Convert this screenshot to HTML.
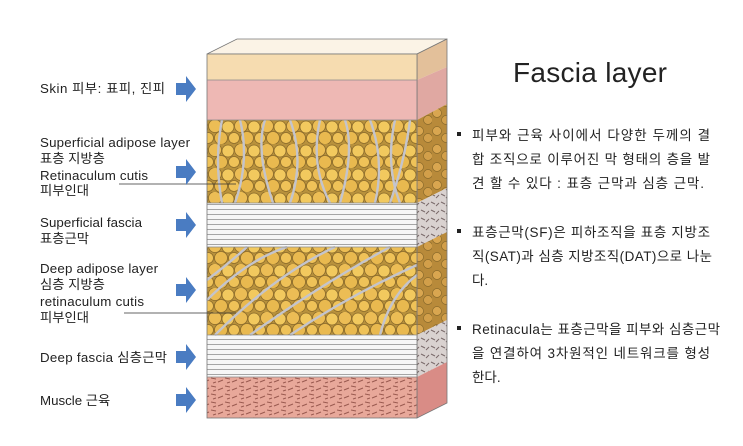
<!DOCTYPE html>
<html><head><meta charset="utf-8"><style>
html,body{margin:0;padding:0;background:#fff;width:743px;height:446px;overflow:hidden}
svg{display:block}
text{font-family:"Liberation Sans","Noto Sans CJK KR",sans-serif;fill:#222}
</style></head><body>
<svg width="743" height="446" viewBox="0 0 743 446">
<defs>
<pattern id="fat" width="26" height="24" patternUnits="userSpaceOnUse">
<rect width="26" height="24" fill="#b8913c"/>
<circle cx="7" cy="6" r="6.5" fill="#ecbd55" stroke="#8a6a2a" stroke-width=".8"/>
<circle cx="20" cy="7" r="6" fill="#f2c95e" stroke="#8a6a2a" stroke-width=".8"/>
<circle cx="13" cy="18" r="6.5" fill="#e9b94f" stroke="#8a6a2a" stroke-width=".8"/>
<circle cx="0" cy="18" r="5.5" fill="#efc258" stroke="#8a6a2a" stroke-width=".8"/>
<circle cx="26" cy="18" r="5.5" fill="#efc258" stroke="#8a6a2a" stroke-width=".8"/>
</pattern>
<pattern id="fatside" width="18" height="18" patternUnits="userSpaceOnUse">
<rect width="18" height="18" fill="#b88a3a"/>
<circle cx="5" cy="5" r="4.5" fill="#d9a650" stroke="#8a6a2a" stroke-width=".7"/>
<circle cx="14" cy="12" r="4.5" fill="#d29f4a" stroke="#8a6a2a" stroke-width=".7"/>
</pattern>
<pattern id="lines" width="10" height="5" patternUnits="userSpaceOnUse">
<rect width="10" height="5" fill="#f6f6f6"/><rect y="4" width="10" height="1" fill="#a5a5a5"/>
</pattern>
<pattern id="musc" width="14" height="8" patternUnits="userSpaceOnUse">
<rect width="14" height="8" fill="#e8a89a"/>
<path d="M1 2 l5 1 M8 6 l5 -2 M3 7 l3 -1" stroke="#9a5a50" stroke-width="1"/>
</pattern>
<pattern id="ct" width="10" height="8" patternUnits="userSpaceOnUse">
<rect width="10" height="8" fill="#d9d2d0"/>
<path d="M1 2 l4 2 M6 6 l3 -3" stroke="#7a6a6a" stroke-width="1"/>
</pattern>
</defs>
<polygon points="207,54 237,39 447,39 417,54" fill="#fbf3e6" stroke="#777" stroke-width=".8"/>
<polygon points="417,54 447,39 447,67 417,80" fill="#e3c09a"/>
<polygon points="417,80 447,67 447,104 417,120" fill="#e0a8a2"/>
<polygon points="417,120 447,104 447,188 417,203" fill="url(#fatside)"/>
<polygon points="417,203 447,188 447,232 417,247" fill="url(#ct)"/>
<polygon points="417,247 447,232 447,320 417,335" fill="url(#fatside)"/>
<polygon points="417,335 447,320 447,362 417,377" fill="url(#ct)"/>
<polygon points="417,377 447,362 447,403 417,418" fill="#d98c86"/>
<polygon points="417,54 447,39 447,403 417,418" fill="none" stroke="#777" stroke-width=".8"/>
<rect x="207" y="54" width="210" height="26" fill="#f6dcb0"/>
<rect x="207" y="80" width="210" height="40" fill="#eeb8b4"/>
<rect x="207" y="120" width="210" height="83" fill="url(#fat)"/>
<rect x="207" y="203" width="210" height="44" fill="url(#lines)"/>
<rect x="207" y="247" width="210" height="88" fill="url(#fat)"/>
<rect x="207" y="335" width="210" height="42" fill="url(#lines)"/>
<rect x="207" y="377" width="210" height="41" fill="url(#musc)"/>
<g stroke="#c4c4cc" stroke-width="2.4" fill="none">
<path d="M222 120 q-8 40 0 83 M240 120 q10 40 -5 83 M265 120 q-10 30 8 83 M290 120 q15 40 0 83 M320 120 q-10 45 10 83 M345 120 q10 30 -5 83 M370 120 q15 40 5 83 M395 120 q-10 45 5 83 M410 120 q-5 40 -20 83"/>
<path d="M207 300 q40 -40 80 -53 M215 335 q60 -60 120 -88 M250 335 q70 -50 140 -88 M290 335 q60 -40 127 -70 M380 335 q10 -40 37 -60 M207 280 q20 -15 40 -33"/>
</g>
<rect x="207" y="54" width="210" height="364" fill="none" stroke="#777" stroke-width=".8"/>
<g stroke="#8a8a8a" stroke-width=".8"><line x1="207" y1="80" x2="417" y2="80"/><line x1="207" y1="120" x2="417" y2="120"/><line x1="207" y1="203" x2="417" y2="203"/><line x1="207" y1="247" x2="417" y2="247"/><line x1="207" y1="335" x2="417" y2="335"/><line x1="207" y1="377" x2="417" y2="377"/></g>
<line x1="119" y1="184" x2="236" y2="184" stroke="#333" stroke-width=".8"/>
<line x1="124" y1="313" x2="236" y2="313" stroke="#333" stroke-width=".8"/>
<g fill="#4a7cc2">
<path d="M176 83 h10 v-7 l10 13 -10 13 v-7 h-10z"/>
<path d="M176 166 h10 v-7 l10 13 -10 13 v-7 h-10z"/>
<path d="M176 219 h10 v-7 l10 13 -10 13 v-7 h-10z"/>
<path d="M176 284 h10 v-7 l10 13 -10 13 v-7 h-10z"/>
<path d="M176 351 h10 v-7 l10 13 -10 13 v-7 h-10z"/>
<path d="M176 394 h10 v-7 l10 13 -10 13 v-7 h-10z"/>
</g>
<g font-size="13.3">
<text x="40" y="93" textLength="125">Skin 피부: 표피, 진피</text>
<text x="40" y="147" textLength="150">Superficial adipose layer</text>
<text x="40" y="163">표층 지방층</text>
<text x="40" y="180" textLength="108">Retinaculum cutis</text>
<text x="40" y="195">피부인대</text>
<text x="40" y="227" textLength="102">Superficial fascia</text>
<text x="40" y="243">표층근막</text>
<text x="40" y="273" textLength="118">Deep adipose layer</text>
<text x="40" y="289">심층 지방층</text>
<text x="40" y="306" textLength="104">retinaculum cutis</text>
<text x="40" y="322">피부인대</text>
<text x="40" y="362" textLength="127">Deep fascia 심층근막</text>
<text x="40" y="405">Muscle 근육</text>
</g>
<text x="590" y="82" font-size="28" text-anchor="middle" textLength="154">Fascia layer</text>
<g font-size="13.5">
<rect x="457" y="132" width="4" height="4" fill="#222"/>
<text x="472" y="140" textLength="238">피부와 근육 사이에서 다양한 두께의 결</text>
<text x="472" y="164" textLength="238">합 조직으로 이루어진 막 형태의 층을 발</text>
<text x="472" y="188" textLength="232">견 할 수 있다 : 표층 근막과 심층 근막.</text>
<rect x="457" y="229" width="4" height="4" fill="#222"/>
<text x="472" y="237" textLength="238">표층근막(SF)은 피하조직을 표층 지방조</text>
<text x="472" y="261" textLength="240">직(SAT)과 심층 지방조직(DAT)으로 나눈</text>
<text x="472" y="285">다.</text>
<rect x="457" y="326" width="4" height="4" fill="#222"/>
<text x="472" y="334" textLength="248">Retinacula는 표층근막을 피부와 심층근막</text>
<text x="472" y="358" textLength="238">을 연결하여 3차원적인 네트워크를 형성</text>
<text x="472" y="382">한다.</text>
</g>
</svg>
</body></html>
